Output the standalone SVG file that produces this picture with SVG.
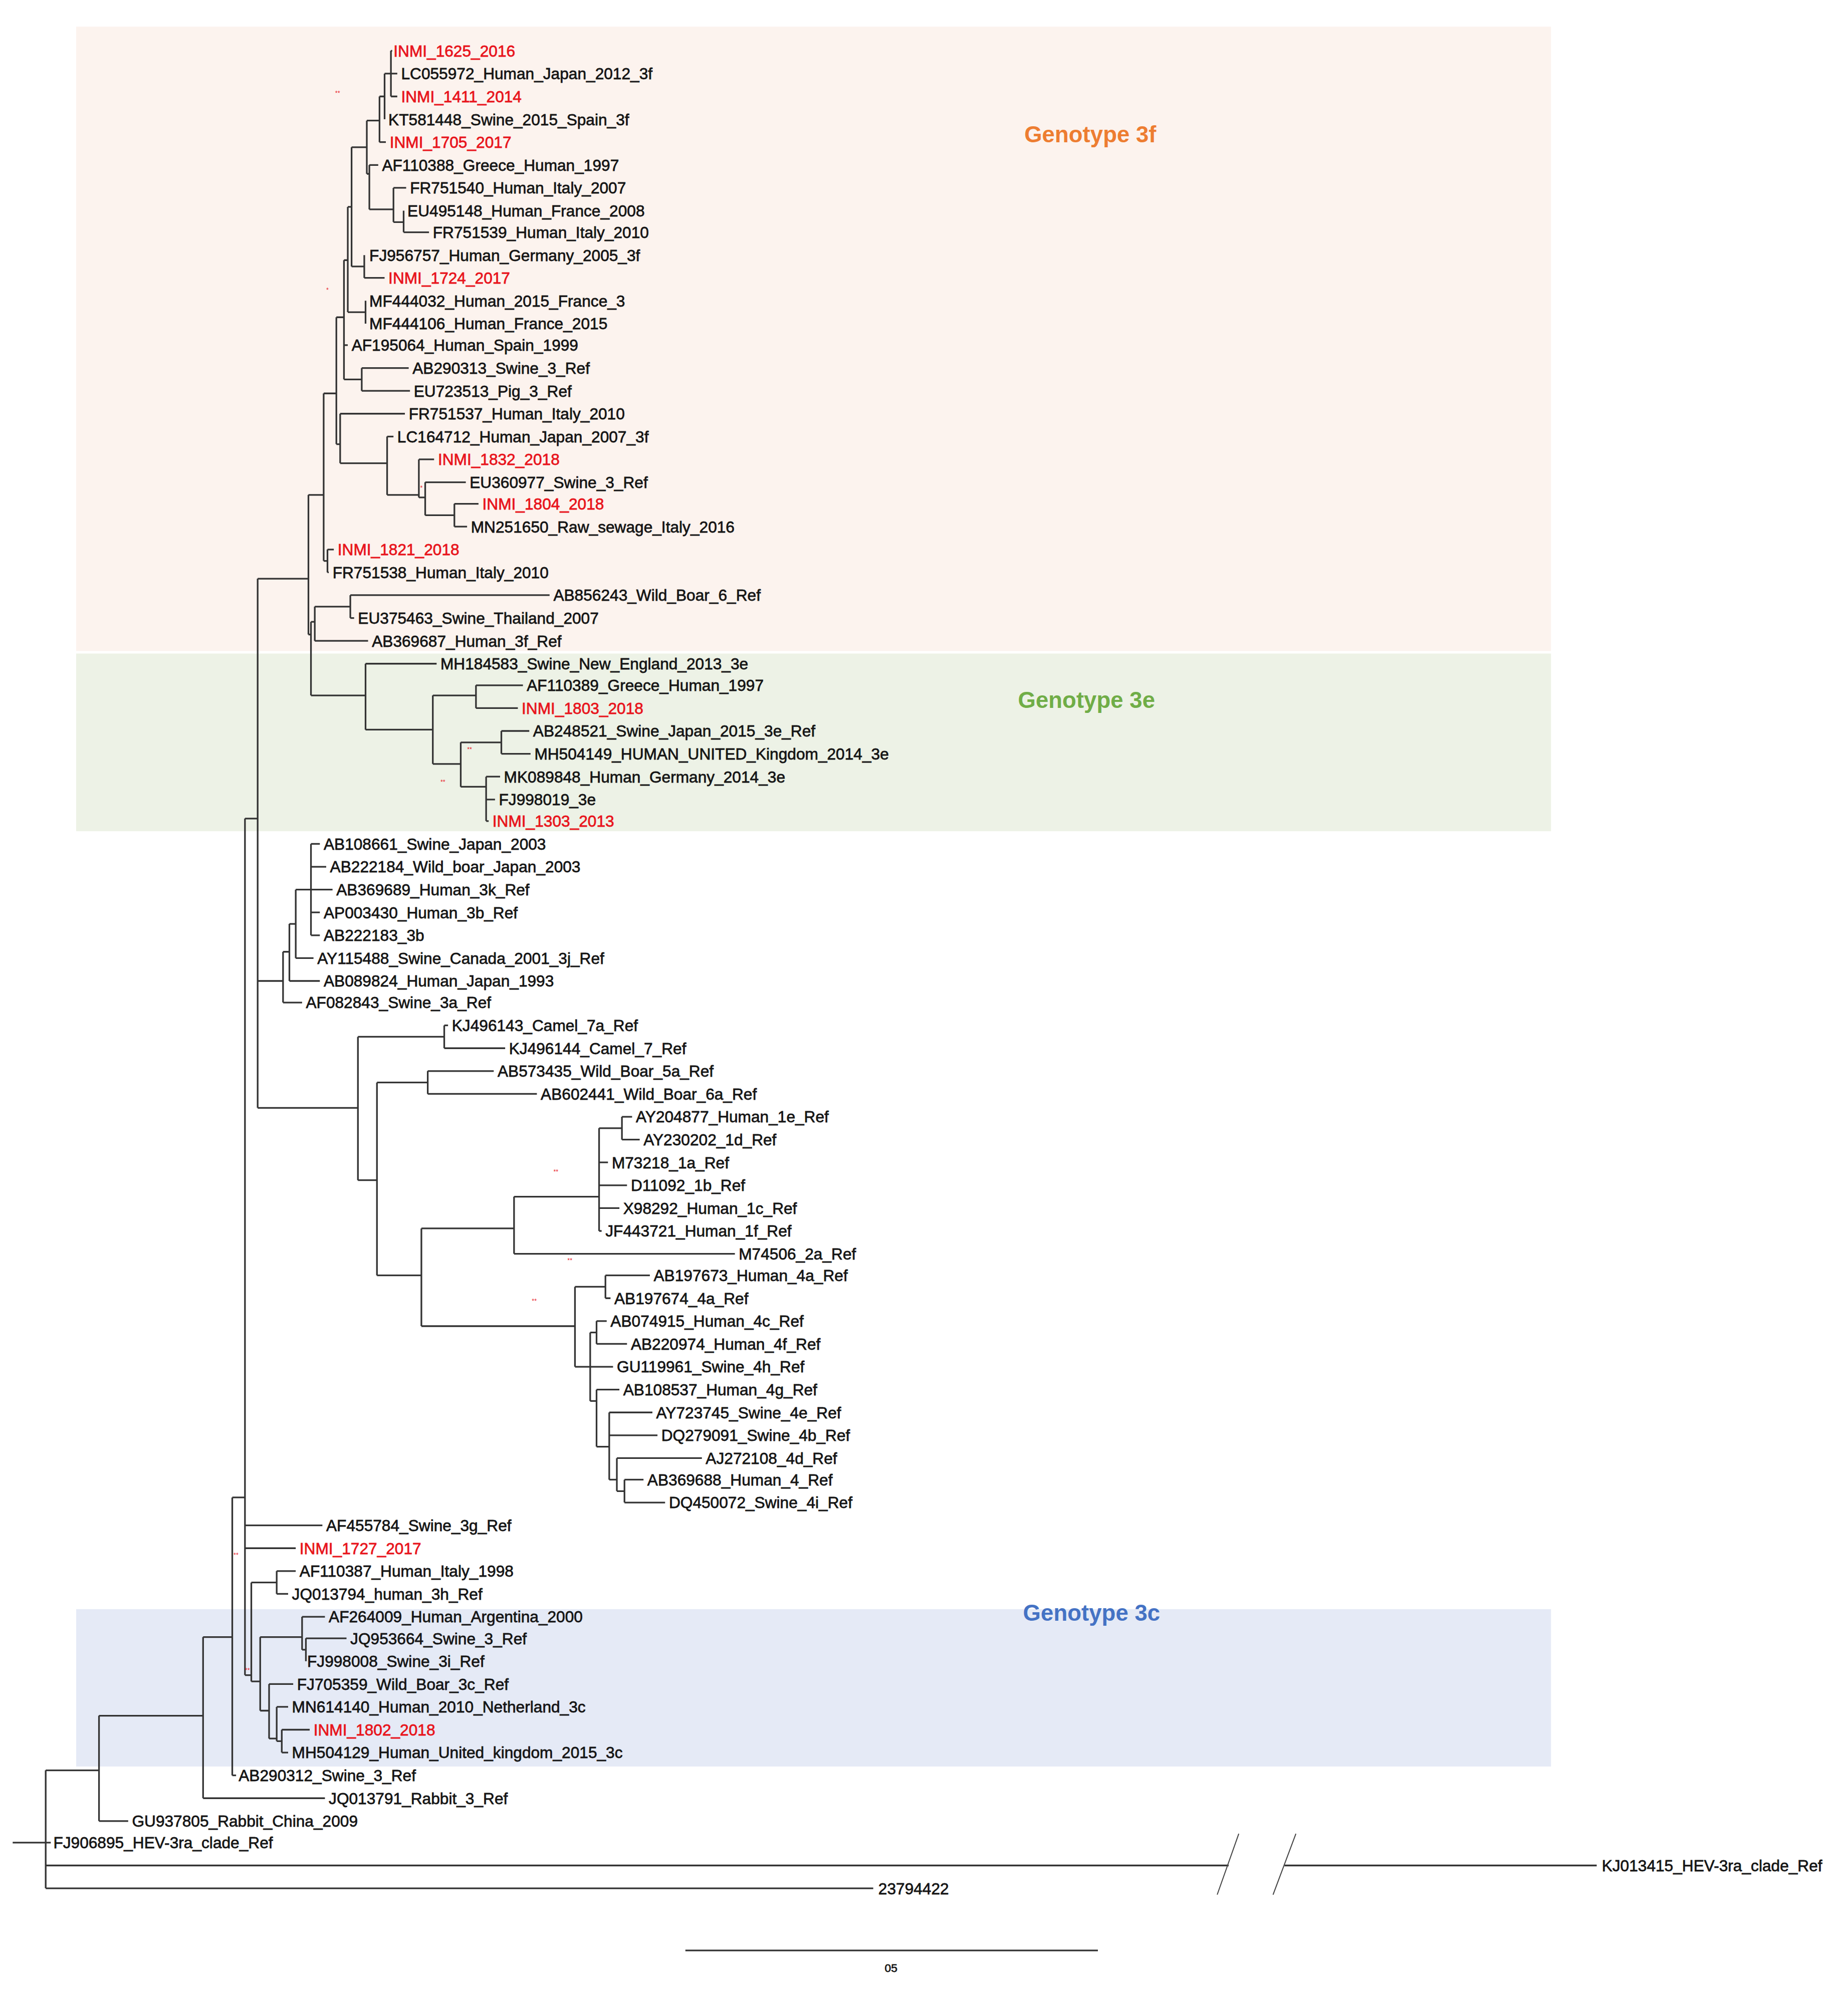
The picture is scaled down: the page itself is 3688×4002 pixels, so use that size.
<svg xmlns="http://www.w3.org/2000/svg" width="3688" height="4002" viewBox="0 0 3688 4002">
<style>
text{font-family:"Liberation Sans",Arial,sans-serif;font-size:12.5px;fill:#151515;stroke:#151515;stroke-width:0.3}
.r{fill:#e8141c;stroke:#e8141c}
.g{font-size:18px;font-weight:bold;stroke:none}
.b{font-size:5px;fill:#e8141c;stroke:none}
.e{fill:none;stroke:#333;stroke-width:1.3}
</style>
<rect width="3688" height="4002" fill="#fff"/>
<g transform="scale(2.533)">
<g id="bg">
<rect x="60" y="21" width="1162" height="492" fill="#fcf3ee"/>
<rect x="60" y="515" width="1162" height="140" fill="#edf2e6"/>
<rect x="60" y="1268" width="1162" height="124" fill="#e5eaf6"/>
<text x="807" y="112" class="g" style="fill:#ed7d31">Genotype 3f</text>
<text x="802" y="558" class="g" style="fill:#70ad47">Genotype 3e</text>
<text x="806" y="1277" class="g" style="fill:#4472c4">Genotype 3c</text>
</g>
<g id="connectors" class="e">
<path class="e" d="M10 1452H36M36 1395V1488M36 1395H78M36 1452H40M36 1470H968M1012 1470H1258M36 1488H688
M78 1352V1435M78 1435H101M78 1352H160M160 1290V1417M160 1417H256M160 1290H183M183 1180V1399M183 1399H186M183 1180H193
M193 645V1320M193 1202H254M193 1220H233M193 1320H198M198 1247V1325M198 1247H218M218 1238V1256M218 1238H233M218 1256H227M198 1325H205
M205 1290V1348M205 1290H238M238 1274V1300M238 1274H256M238 1300H241M241 1291V1309M241 1291H273
M205 1348H212M212 1327V1370M212 1327H231M212 1370H218M218 1345V1372M218 1345H227M218 1372H222M222 1363V1381M222 1363H244M222 1381H227
M193 645H203M203 456V873M203 456H243M203 773H223M203 873H282
M223 750V790M223 790H238M223 750H228M228 728V773M228 773H252M228 728H233M233 701V755M233 755H247M233 701H245M245 665V737M245 665H252M245 683H257M245 701H262M245 719H252M245 737H252
M282 817V930M282 817H350M350 808V826M350 808H353M350 826H398M282 930H297M297 853V1005M297 853H337M337 844V862M337 844H389M337 862H423M297 1005H332M332 968V1045M332 968H405M405 943V988M405 988H579M405 943H472M472 889V970M472 889H490M490 880V898M490 880H498M490 898H504M472 916H479M472 934H494M472 952H488M472 970H474
M332 1045H453M453 1014V1077M453 1014H477M477 1005V1023M477 1005H512M477 1023H481M453 1077H465M465 1050V1104M465 1050H470M470 1041V1059M470 1041H478M470 1059H494M465 1077H483M465 1104H470M470 1095V1140M470 1095H488M470 1140H480M480 1113V1166M480 1113H514M480 1131H518M480 1166H486M486 1149V1175M486 1149H553M486 1175H492M492 1166V1184M492 1166H507M492 1184H524
M243 390V500M243 390H255M243 500H245M245 490V548M245 490H248M248 478V505M248 478H276M276 469V487M276 469H433M276 487H279M248 505H290M245 548H288M288 523V575M288 523H344M288 575H341M341 548V602M341 548H375M375 540V558M375 540H412M375 558H408M341 602H363M363 585V620M363 585H395M395 576V594M395 576H417M395 594H418M363 620H383M383 612V647M383 612H394M383 630H390M383 647H385
M255 310V442M255 442H258M258 433V451M258 433H263M258 451H259M255 310H265M265 250V350M265 350H268M268 326V365M268 326H319M268 365H305M305 344V390M305 344H310M305 390H330M330 362V392M330 362H342M330 392H335M335 380V406M335 380H367M335 406H358M358 397V415M358 397H377M358 415H368
M265 250H271M271 205V299M271 205H274M274 163V246M274 163H277M277 116V210M277 116H289M289 95V137M289 95H299M299 76V112M299 76H303M303 58V94M303 58H308M308 40V76M308 40H309M308 58H313M308 76H313M299 112H304M289 137H291M291 130V165M291 130H298M291 165H310M310 148V175M310 148H320M310 175H318M318 166V183M318 183H338M277 210H287M287 201V219M287 219H303M274 246H288M288 237V255M271 272H274M271 299H285M285 290V308M285 290H322M285 308H323
M540 1537H865"/>
<path d="M976 1445L959 1493M1021 1445L1003 1493" fill="none" stroke="#444" stroke-width="0.8"/>
</g>
<g id="marks">
<text x="264" y="75" class="b">**</text><text x="257" y="230" class="b">*</text><text x="331" y="386" class="b">*</text>
<text x="368" y="592" class="b">**</text><text x="347" y="618" class="b">**</text><text x="436" y="925" class="b">**</text>
<text x="447" y="995" class="b">**</text><text x="419" y="1027" class="b">**</text><text x="184" y="1227" class="b">**</text><text x="193" y="1318" class="b">**</text>
</g>
<g id="n0"><text x="310" y="44.5" class="r">INMI_1625_2016</text></g>
<g id="n1"><text x="316" y="62.5">LC055972_Human_Japan_2012_3f</text></g>
<g id="n2"><text x="316" y="80.5" class="r">INMI_1411_2014</text></g>
<g id="n3"><text x="306" y="98.5">KT581448_Swine_2015_Spain_3f</text></g>
<g id="n4"><text x="307" y="116.5" class="r">INMI_1705_2017</text></g>
<g id="n5"><text x="301" y="134.5">AF110388_Greece_Human_1997</text></g>
<g id="n6"><text x="323" y="152.5">FR751540_Human_Italy_2007</text></g>
<g id="n7"><text x="321" y="170.5">EU495148_Human_France_2008</text></g>
<g id="n8"><text x="341" y="187.5">FR751539_Human_Italy_2010</text></g>
<g id="n9"><text x="291" y="205.5">FJ956757_Human_Germany_2005_3f</text></g>
<g id="n10"><text x="306" y="223.5" class="r">INMI_1724_2017</text></g>
<g id="n11"><text x="291" y="241.5">MF444032_Human_2015_France_3</text></g>
<g id="n12"><text x="291" y="259.5">MF444106_Human_France_2015</text></g>
<g id="n13"><text x="277" y="276.5">AF195064_Human_Spain_1999</text></g>
<g id="n14"><text x="325" y="294.5">AB290313_Swine_3_Ref</text></g>
<g id="n15"><text x="326" y="312.5">EU723513_Pig_3_Ref</text></g>
<g id="n16"><text x="322" y="330.5">FR751537_Human_Italy_2010</text></g>
<g id="n17"><text x="313" y="348.5">LC164712_Human_Japan_2007_3f</text></g>
<g id="n18"><text x="345" y="366.5" class="r">INMI_1832_2018</text></g>
<g id="n19"><text x="370" y="384.5">EU360977_Swine_3_Ref</text></g>
<g id="n20"><text x="380" y="401.5" class="r">INMI_1804_2018</text></g>
<g id="n21"><text x="371" y="419.5">MN251650_Raw_sewage_Italy_2016</text></g>
<g id="n22"><text x="266" y="437.5" class="r">INMI_1821_2018</text></g>
<g id="n23"><text x="262" y="455.5">FR751538_Human_Italy_2010</text></g>
<g id="n24"><text x="436" y="473.5">AB856243_Wild_Boar_6_Ref</text></g>
<g id="n25"><text x="282" y="491.5">EU375463_Swine_Thailand_2007</text></g>
<g id="n26"><text x="293" y="509.5">AB369687_Human_3f_Ref</text></g>
<g id="n27"><text x="347" y="527.5">MH184583_Swine_New_England_2013_3e</text></g>
<g id="n28"><text x="415" y="544.5">AF110389_Greece_Human_1997</text></g>
<g id="n29"><text x="411" y="562.5" class="r">INMI_1803_2018</text></g>
<g id="n30"><text x="420" y="580.5">AB248521_Swine_Japan_2015_3e_Ref</text></g>
<g id="n31"><text x="421" y="598.5">MH504149_HUMAN_UNITED_Kingdom_2014_3e</text></g>
<g id="n32"><text x="397" y="616.5">MK089848_Human_Germany_2014_3e</text></g>
<g id="n33"><text x="393" y="634.5">FJ998019_3e</text></g>
<g id="n34"><text x="388" y="651.5" class="r">INMI_1303_2013</text></g>
<g id="n35"><text x="255" y="669.5">AB108661_Swine_Japan_2003</text></g>
<g id="n36"><text x="260" y="687.5">AB222184_Wild_boar_Japan_2003</text></g>
<g id="n37"><text x="265" y="705.5">AB369689_Human_3k_Ref</text></g>
<g id="n38"><text x="255" y="723.5">AP003430_Human_3b_Ref</text></g>
<g id="n39"><text x="255" y="741.5">AB222183_3b</text></g>
<g id="n40"><text x="250" y="759.5">AY115488_Swine_Canada_2001_3j_Ref</text></g>
<g id="n41"><text x="255" y="777.5">AB089824_Human_Japan_1993</text></g>
<g id="n42"><text x="241" y="794.5">AF082843_Swine_3a_Ref</text></g>
<g id="n43"><text x="356" y="812.5">KJ496143_Camel_7a_Ref</text></g>
<g id="n44"><text x="401" y="830.5">KJ496144_Camel_7_Ref</text></g>
<g id="n45"><text x="392" y="848.5">AB573435_Wild_Boar_5a_Ref</text></g>
<g id="n46"><text x="426" y="866.5">AB602441_Wild_Boar_6a_Ref</text></g>
<g id="n47"><text x="501" y="884.5">AY204877_Human_1e_Ref</text></g>
<g id="n48"><text x="507" y="902.5">AY230202_1d_Ref</text></g>
<g id="n49"><text x="482" y="920.5">M73218_1a_Ref</text></g>
<g id="n50"><text x="497" y="938.5">D11092_1b_Ref</text></g>
<g id="n51"><text x="491" y="956.5">X98292_Human_1c_Ref</text></g>
<g id="n52"><text x="477" y="974.5">JF443721_Human_1f_Ref</text></g>
<g id="n53"><text x="582" y="992.5">M74506_2a_Ref</text></g>
<g id="n54"><text x="515" y="1009.5">AB197673_Human_4a_Ref</text></g>
<g id="n55"><text x="484" y="1027.5">AB197674_4a_Ref</text></g>
<g id="n56"><text x="481" y="1045.5">AB074915_Human_4c_Ref</text></g>
<g id="n57"><text x="497" y="1063.5">AB220974_Human_4f_Ref</text></g>
<g id="n58"><text x="486" y="1081.5">GU119961_Swine_4h_Ref</text></g>
<g id="n59"><text x="491" y="1099.5">AB108537_Human_4g_Ref</text></g>
<g id="n60"><text x="517" y="1117.5">AY723745_Swine_4e_Ref</text></g>
<g id="n61"><text x="521" y="1135.5">DQ279091_Swine_4b_Ref</text></g>
<g id="n62"><text x="556" y="1153.5">AJ272108_4d_Ref</text></g>
<g id="n63"><text x="510" y="1170.5">AB369688_Human_4_Ref</text></g>
<g id="n64"><text x="527" y="1188.5">DQ450072_Swine_4i_Ref</text></g>
<g id="n65"><text x="257" y="1206.5">AF455784_Swine_3g_Ref</text></g>
<g id="n66"><text x="236" y="1224.5" class="r">INMI_1727_2017</text></g>
<g id="n67"><text x="236" y="1242.5">AF110387_Human_Italy_1998</text></g>
<g id="n68"><text x="230" y="1260.5">JQ013794_human_3h_Ref</text></g>
<g id="n69"><text x="259" y="1278.5">AF264009_Human_Argentina_2000</text></g>
<g id="n70"><text x="276" y="1295.5">JQ953664_Swine_3_Ref</text></g>
<g id="n71"><text x="242" y="1313.5">FJ998008_Swine_3i_Ref</text></g>
<g id="n72"><text x="234" y="1331.5">FJ705359_Wild_Boar_3c_Ref</text></g>
<g id="n73"><text x="230" y="1349.5">MN614140_Human_2010_Netherland_3c</text></g>
<g id="n74"><text x="247" y="1367.5" class="r">INMI_1802_2018</text></g>
<g id="n75"><text x="230" y="1385.5">MH504129_Human_United_kingdom_2015_3c</text></g>
<g id="n76"><text x="188" y="1403.5">AB290312_Swine_3_Ref</text></g>
<g id="n77"><text x="259" y="1421.5">JQ013791_Rabbit_3_Ref</text></g>
<g id="n78"><text x="104" y="1439.5">GU937805_Rabbit_China_2009</text></g>
<g id="n79"><text x="42" y="1456.5">FJ906895_HEV-3ra_clade_Ref</text></g>
<g id="n80"><text x="1262" y="1474.5">KJ013415_HEV-3ra_clade_Ref</text></g>
<g id="n81"><text x="692" y="1492.5">23794422</text></g>
<g id="scale"><text x="697" y="1554" style="font-size:9px">05</text></g>
</g>
</svg>
